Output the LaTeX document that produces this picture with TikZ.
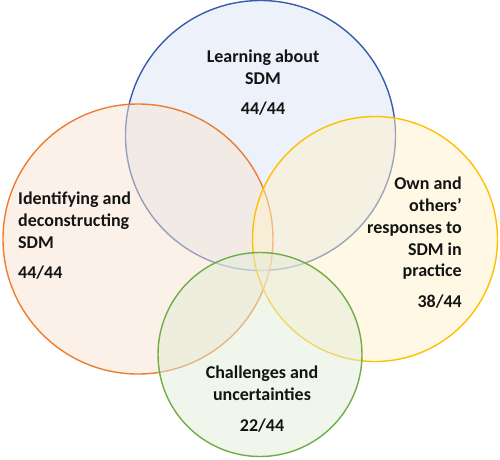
\documentclass[tikz,border=0pt]{standalone}
\usepackage{fontspec}
\setmainfont{Carlito}
\begin{document}
\begin{tikzpicture}[x=1pt,y=-1pt,
  ring/.style={line width=1.4pt, fill opacity=0.5},
  lbl/.style={font=\bfseries\fontsize{18}{22}\selectfont, text=black!92, inner sep=0pt, anchor=base},
  lblL/.style={lbl, anchor=base west},
  lblR/.style={lbl, anchor=base east}]
\useasboundingbox (0,0) rectangle (500,459);
\definecolor{bstroke}{RGB}{55,92,168}\definecolor{bfill}{RGB}{217,227,245}
\definecolor{ostroke}{HTML}{ED7D31}\definecolor{ofill}{RGB}{249,227,209}
\definecolor{ystroke}{HTML}{FFC000}\definecolor{yfill}{RGB}{255,241,203}
\definecolor{gstroke}{HTML}{70AD47}\definecolor{gfill}{RGB}{225,237,215}
\filldraw[ring, draw=bstroke, fill=bfill] (260.5,135.5) circle[radius=135];
\filldraw[ring, draw=ostroke, fill=ofill] (138,239) circle[radius=135];
\filldraw[ring, draw=ystroke, fill=yfill] (375,239) circle[radius=122.5];
\filldraw[ring, draw=gstroke, fill=gfill] (260,354.5) circle[radius=102];
% top
\node[lbl] (t1) at (263,62) {Learning about};
\node[lbl] (t2) at (263,84) {SDM};
\node[lbl] (t3) at (263,114) {44/44};
% left
\node[lblL] (l1) at (18,204) {Identifying and};
\node[lblL] (l2) at (18,226) {deconstructing};
\node[lblL] (l3) at (18,248) {SDM};
\node[lblL] (l4) at (18,278) {44/44};
% right
\node[lblR] (r1) at (462,189) {Own and};
\node[lblR] (r2) at (462,211) {others’};
\node[lblR] (r3) at (462,233) {responses to};
\node[lblR] (r4) at (462,255) {SDM in};
\node[lblR] (r5) at (462,276) {practice};
\node[lblR] (r6) at (462,307) {38/44};
% bottom
\node[lbl] (b1) at (262,378) {Challenges and};
\node[lbl] (b2) at (262,400) {uncertainties};
\node[lbl] (b3) at (262,431) {22/44};
\end{tikzpicture}
\end{document}
